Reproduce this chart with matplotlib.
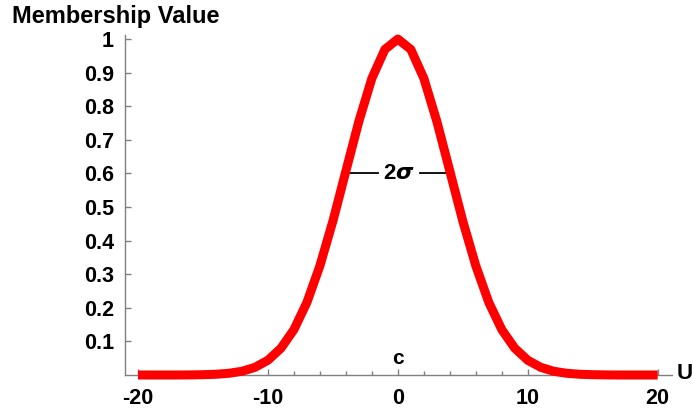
import numpy as np
import matplotlib.pyplot as plt
from matplotlib.ticker import MultipleLocator

u_vals = list(range(-20, 21))
mu_vals = [0.0, 0.0, 0.0, 0.0, 0.0003, 0.0009, 0.0022, 0.0051, 0.0111, 0.0228,
           0.0439, 0.0796, 0.135, 0.216, 0.325, 0.458, 0.607, 0.755, 0.883, 0.969,
           1.0,
           0.969, 0.883, 0.755, 0.607, 0.458, 0.325, 0.216, 0.135, 0.0796, 0.0439,
           0.0228, 0.0111, 0.0051, 0.0022, 0.0009, 0.0003, 0.0, 0.0, 0.0, 0.0]
x_ticks = [-20, -10, 0, 10, 20]
y_ticks = [0.1, 0.2, 0.3, 0.4, 0.5, 0.6, 0.7, 0.8, 0.9, 1]
sigma_level = 0.6
sigma_half = 3.85

plt.rcParams['font.family'] = ['Liberation Sans', 'DejaVu Sans']
plt.rcParams['font.weight'] = 'bold'

fig = plt.figure(figsize=(6.93, 4.11), dpi=100)
ax = fig.add_axes([125 / 693, 36 / 411, 547 / 693, 340 / 411])

ax.plot(u_vals, mu_vals, color='#ff0000', lw=6.5, solid_capstyle='butt',
        solid_joinstyle='round', clip_on=False, zorder=3)

ax.set_xlim(-21, 21.1)
ax.set_ylim(0, 1.012)

for s in ['top', 'right']:
    ax.spines[s].set_visible(False)
for s in ['left', 'bottom']:
    ax.spines[s].set_color('#808080')
    ax.spines[s].set_linewidth(1.0)

ax.set_xticks(x_ticks)
ax.set_xticklabels([str(t) for t in x_ticks])
ax.xaxis.set_minor_locator(MultipleLocator(2))
ax.set_yticks(y_ticks)
ax.set_yticklabels(['%g' % t for t in y_ticks])
ax.tick_params(axis='both', which='both', direction='in', color='#808080',
               labelsize=15.5, labelcolor='black')
ax.tick_params(axis='y', which='major', length=4, width=1, pad=8)
ax.tick_params(axis='x', which='major', length=4, width=1, pad=9)
ax.tick_params(axis='x', which='minor', length=3, width=1)

# 2 sigma marker
ax.plot([-sigma_half, -1.5], [sigma_level, sigma_level], color='black', lw=1.3)
ax.plot([1.7, sigma_half], [sigma_level, sigma_level], color='black', lw=1.3)
ax.text(0.1, sigma_level, r'2$\sigma$', ha='center', va='center', fontsize=16,
        fontweight='bold')

ax.text(0, 0.022, 'c', ha='center', va='bottom', fontsize=15, fontweight='bold')
fig.text(12 / 693, 1 - 17 / 411, 'Membership Value', ha='left', va='center',
         fontsize=17, fontweight='bold')
fig.text(677 / 693, 1 - 373 / 411, 'U', ha='left', va='center', fontsize=16,
         fontweight='bold')

fig.savefig('out.png', dpi=100)
